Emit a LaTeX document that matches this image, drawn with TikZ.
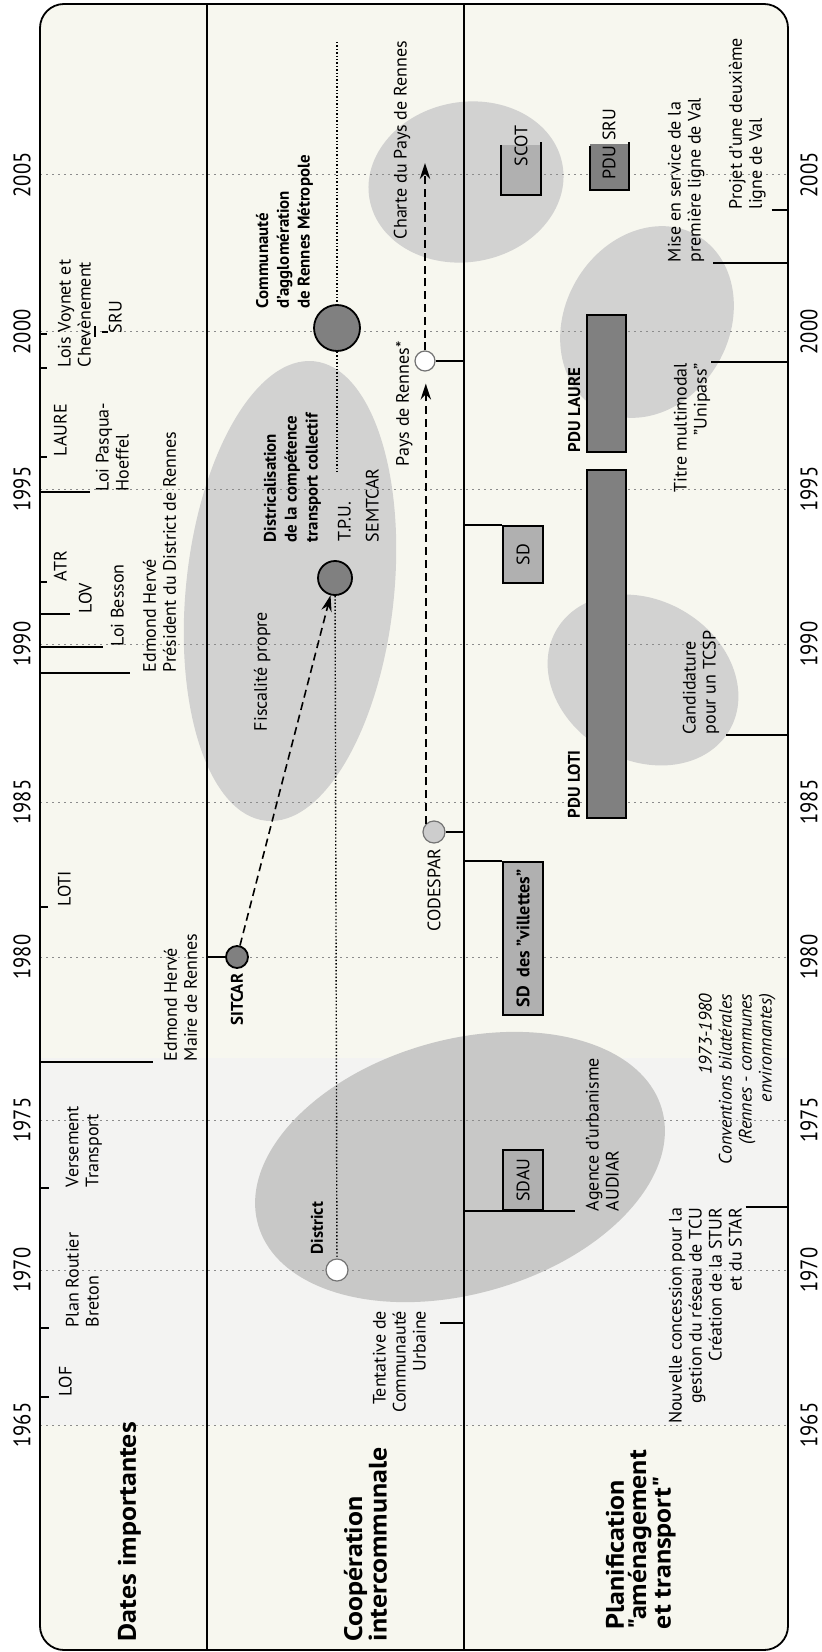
\documentclass[tikz,border=0pt]{standalone}
\usepackage{fontspec}
\setmainfont{PT Sans}
\newfontfamily\headfont[FakeStretch=1.1]{PT Sans}
\newfontfamily\yrfont[FakeStretch=0.86]{PT Sans}
\usetikzlibrary{arrows.meta, positioning}

\definecolor{cream}{RGB}{247,247,239}
\definecolor{band}{RGB}{243,243,242}
\definecolor{ellgrey}{RGB}{210,210,209}
\definecolor{ellgreyd}{RGB}{200,200,199}
\definecolor{boxlt}{RGB}{176,176,176}
\definecolor{boxdk}{RGB}{128,128,128}
\definecolor{dotlt}{RGB}{205,205,205}

\newcommand{\lblsize}{\fontsize{12.8}{14.2}\selectfont}

\begin{document}
\begin{tikzpicture}[x=0.25mm, y=-0.25mm, line width=0.45mm,
        lbl/.style={rotate=90, inner sep=0pt, font=\lblsize, align=left, anchor=north west},
        lblr/.style={lbl, align=right, anchor=north east},
        blbl/.style={lbl, font=\fontsize{12}{14.8}\selectfont\bfseries},
        head/.style={lbl, font=\headfont\fontsize{18}{15.8}\selectfont\bfseries},
        yr/.style={rotate=90, inner sep=0pt, font=\yrfont\fontsize{17}{17}\selectfont},
        yrline/.style={black!45, line width=0.25mm, dash pattern=on 0.5mm off 1mm},
        dotline/.style={line width=0.35mm, dash pattern=on 0.35mm off 0.5mm},
        dasharrow/.style={line width=0.4mm, dash pattern=on 2mm off 1.2mm, -{Stealth[length=4mm, width=2.6mm]}},
        cdot/.style={circle, draw, inner sep=0pt, line width=0.45mm},
        odot/.style={cdot, draw=black!55, line width=0.3mm},
        boxl/.style={draw, fill=boxlt, inner sep=0pt, rotate=90, minimum height=10mm, font=\lblsize},
        pbox/.style={draw, fill=boxdk, inner sep=0pt, minimum width=9.75mm}]
    \useasboundingbox (0,0) rectangle (821,1652);
    \coordinate (bl) at (40,0);
    \coordinate (d1) at (207,0);
    \coordinate (d2) at (464,0);
    \coordinate (br) at (788,0);
    % background and 1965-1977 band
    \fill[cream, rounded corners=6mm] (40,4) rectangle (788,1650);
    \fill[band] (40,1058) rectangle (788,1425);
    % grey zones
    \fill[ellgrey, rotate around={84:(290,591)}] (290,591) ellipse [x radius=231, y radius=104];
    \fill[ellgreyd, rotate around={16:(460,1167)}] (460,1167) ellipse [x radius=210, y radius=127];
    \fill[ellgrey, rotate around={10:(466,182)}] (466,182) ellipse [x radius=98, y radius=80];
    \fill[ellgrey, rotate around={60:(647,322)}] (647,322) ellipse [x radius=100, y radius=82];
    \fill[ellgrey, rotate around={-30:(643,680)}] (643,680) ellipse [x radius=100, y radius=80];
    % years
    \draw[yrline] (40,175) -- (788,175);
    \draw[yrline] (40,332) -- (788,332);
    \draw[yrline] (40,489) -- (788,489);
    \draw[yrline] (40,644) -- (788,644);
    \draw[yrline] (40,802) -- (788,802);
    \draw[yrline] (40,957) -- (788,957);
    \draw[yrline] (40,1120) -- (788,1120);
    \draw[yrline] (40,1270) -- (788,1270);
    \draw[yrline] (40,1425) -- (788,1425);
    \node[yr] (yl05) at (22,175) {2005};
    \node[yr] (yl00) at (22,332) {2000};
    \node[yr] (yl95) at (22,489) {1995};
    \node[yr] (yl90) at (22,644) {1990};
    \node[yr] (yl85) at (22,802) {1985};
    \node[yr] (yl80) at (22,957) {1980};
    \node[yr] (yl75) at (22,1120) {1975};
    \node[yr] (yl70) at (22,1270) {1970};
    \node[yr] (yl65) at (22,1425) {1965};
    \node[yr] (yr05) at (809,175) {2005};
    \node[yr] (yr00) at (809,332) {2000};
    \node[yr] (yr95) at (809,489) {1995};
    \node[yr] (yr90) at (809,644) {1990};
    \node[yr] (yr85) at (809,802) {1985};
    \node[yr] (yr80) at (809,957) {1980};
    \node[yr] (yr75) at (809,1120) {1975};
    \node[yr] (yr70) at (809,1270) {1970};
    \node[yr] (yr65) at (809,1425) {1965};
    \draw (207,4) -- (207,1650);
    \draw (464,4) -- (464,1650);

    % Dates importantes
    \node[head] (hdates) at (117,1642) {Dates importantes};
    \node[lbl] (llof) at (58,1397) {LOF};
    \node[lbl] (lprb) at (65,1328) {Plan Routier\\Breton};
    \node[lbl] (lvt) at (65,1188) {Versement\\Transport};
    \node[lbl] (lehm) at (163,1062) {Edmond Hervé\\Maire de Rennes};
    \node[lbl] (lloti) at (57,907) {LOTI};
    \node[lbl] (lehp) at (142,673) {Edmond Hervé\\Président du District de Rennes};
    \node[lbl] (lbesson) at (110,647) {Loi Besson};
    \node[lbl] (llov) at (78,614) {LOV};
    \node[lbl] (latr) at (53,582) {ATR};
    \node[lbl] (lpasqua) at (95,492) {Loi Pasqua-\\Hoeffel};
    \node[lbl] (llaure) at (53,457) {LAURE};
    \node[lbl] (lvoynet) at (57,368) {Lois Voynet et\\Chevènement};
    \node[lbl] (lsru) at (108,334) {SRU};
    \draw (llof.north west -| bl) -- +(9,0);
    \draw (lprb.north west -| bl) -- +(9,0);
    \draw (lvt.north west -| bl) -- +(9,0);
    \draw (lehm.north west -| bl) -- ([xshift=-2.5mm]lehm.north west);
    \draw (lloti.north west -| bl) -- +(8,0);
    \draw (lehp.north west -| bl) -- ([xshift=-3mm]lehp.north west);
    \draw (lbesson.north west -| bl) -- ([xshift=-1.75mm]lbesson.north west);
    \draw (llov.north west -| bl) -- ([xshift=-2mm]llov.north west);
    \draw (latr.north west -| bl) -- +(7,0);
    \draw (lpasqua.north west -| bl) -- ([xshift=-1.25mm]lpasqua.north west);
    \draw (llaure.north west -| bl) -- +(7,0);
    \draw (lvoynet.north west -| bl) -- +(7,0);
    \draw (lsru.north west -| bl) -- +(7,0);
    \draw (95,326) -- (95,337);
    \draw (102,332) -- (108,332);

    % Cooperation intercommunale
    \node[head] (hcoop) at (343,1642) {Coopération\\intercommunale};
    \node[cdot, fill=boxdk, minimum size=11.5mm] (cagglo) at (337,328) {};
    \node[cdot, fill=boxdk, minimum size=8.5mm] (cdistr) at (335,578) {};
    \node[cdot, fill=boxdk, minimum size=5.5mm] (csitcar) at (237,957) {};
    \node[odot, fill=white, minimum size=5.5mm] (cdistrict) at (337,1270) {};
    \node[odot, fill=white, minimum size=5mm] (cpays) at (425,361) {};
    \node[odot, fill=dotlt, minimum size=5.5mm] (ccodespar) at (434,832) {};
    \coordinate (ctop) at (337,42);
    \coordinate (tpuend) at (337,472);
    \coordinate (chend) at (425,163);
    \draw[dotline] (ctop) -- (cagglo);
    \draw[dotline] (cagglo) -- (tpuend);
    \draw[dotline] (cdistr) -- (cdistrict);
    \draw[dasharrow] (csitcar) -- (cdistr);
    \draw[dasharrow, shorten >=3mm] (ccodespar.north west) -- (ccodespar.north west |- cpays.south);
    \draw[dasharrow] (cpays) -- (chend);
    \draw (csitcar) -- (csitcar -| d1);
    \draw (cpays) -- (cpays -| d2);
    \draw (ccodespar) -- (ccodespar -| d2);
    \node[blbl] (lagglo) at (255,309) {Communauté\\d'agglomération\\de Rennes Métropole};
    \node[blbl] (ldistr) at (263,543) {Districalisation\\de la compétence\\transport collectif};
    \node[lbl] (ltpu) at (337,542) {T.P.U.};
    \node[lbl] (lsemtcar) at (365,543) {SEMTCAR};
    \node[lbl] (lfisc) at (253,732) {Fiscalité propre};
    \node[blbl, anchor=east] (lsitcar) at ([yshift=-1mm]csitcar.south) {SITCAR};
    \node[blbl] (ldistrict) at (310,1255) {District};
    \node[lblr] (ltent) at (372,1310) {Tentative de\\Communauté\\Urbaine};
    \coordinate (tentk) at (440,1323);
    \draw (tentk) -- (tentk -| d2);
    \node[lbl] (lpays) at (395,467) {Pays de Rennes*};
    \node[lbl] (lcharte) at (393,240) {Charte du Pays de Rennes};
    \node[lbl, anchor=east] (lcodespar) at ([yshift=-1mm]ccodespar.south) {CODESPAR};

    % Planification amenagement et transport
    \node[head] (hplan) at (605,1630) {Planification\\"aménagement\\et transport"};
    \fill[boxlt] (501,145) rectangle (541,195);
    \draw (501,145) -- (501,195) -- (541,195) -- (541,142);
    \node[lbl, anchor=center] (lscot) at (521,146) {SCOT};
    \fill[boxdk] (590,144) rectangle (629,190);
    \draw (590,146) -- (590,190) -- (629,190) -- (629,142);
    \node[lbl, anchor=west] (lpdusru) at (609,180) {PDU SRU};
    \node[pbox, minimum height=34.25mm] (pdulaure) at (606.5,383.5) {};
    \node[pbox, minimum height=87mm] (pduloti) at (606.5,644) {};
    \node[blbl, anchor=south west] (lpdulaure) at ([xshift=-1.25mm]pdulaure.south west) {PDU LAURE};
    \node[blbl, anchor=south west] (lpduloti) at ([xshift=-1.25mm]pduloti.south west) {PDU LOTI};
    \node[boxl, minimum width=14.25mm] (sd) at (523,554.5) {SD};
    \node[boxl, minimum width=38.25mm] (sdv) at (523,938.5) {\textbf{SD\enspace des "villettes"}};
    \node[boxl, minimum width=15mm] (sdau) at (523,1180) {SDAU};
    \draw (sd.north east -| d2) -- (sd.north east);
    \draw (sdv.north east -| d2) -- (sdv.north east);
    \node[lbl] (laud) at (585,1212) {Agence d'urbanisme\\AUDIAR};
    \draw[shorten >=2.5mm] (sdau.north west -| d2) -- (sdau.north west -| laud.north west);
    \node[lblr] (lnouv) at (668,1207) {Nouvelle concession pour la\\gestion du réseau de TCU\\Création de la STUR\\et du STAR};
    \node[lblr, font=\lblsize\itshape] (lconv) at (698,993) {1973-1980\\Conventions bilatérales\\(Rennes - communes\\environnantes)};
    \node[lbl] (lcand) at (682,735) {Candidature\\pour un TCSP};
    \node[lblr] (ltitre) at (673,362) {Titre multimodal\\"Unipass"};
    \node[lbl] (lmise) at (667,263) {Mise en service de la\\première ligne de Val};
    \node[lbl] (lprojet) at (728,210) {Projet d'une deuxième\\ligne de Val};
    \draw ([xshift=0.75mm]lnouv.south east) -- (lnouv.south east -| br);
    \draw ([xshift=1.5mm]lcand.south west) -- (lcand.south west -| br);
    \draw (ltitre.south east) -- (ltitre.south east -| br);
    \draw ([xshift=2mm]lmise.south west) -- (lmise.south west -| br);
    \draw ([xshift=1.25mm]lprojet.south west) -- (lprojet.south west -| br);

    \draw[rounded corners=6mm] (40,4) rectangle (788,1650);
\end{tikzpicture}
\end{document}
